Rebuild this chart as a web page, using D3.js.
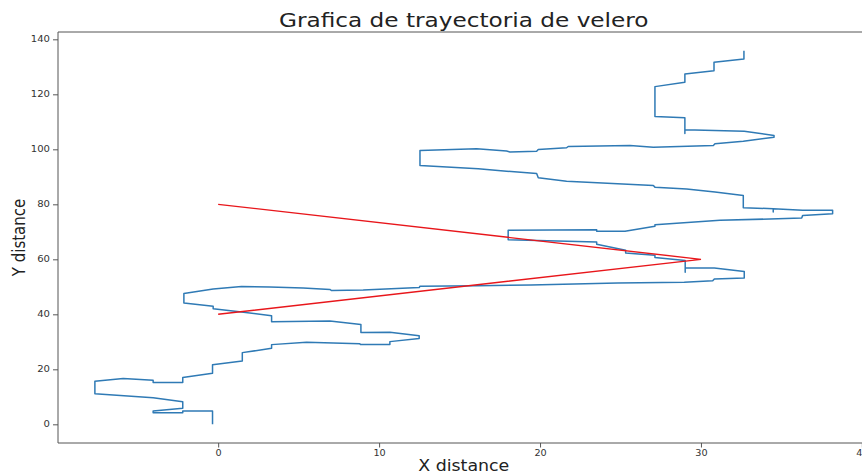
<!DOCTYPE html>
<html>
<head>
<meta charset="utf-8">
<script src="https://cdn.jsdelivr.net/npm/d3@7"></script>
<style>
  html, body { margin: 0; padding: 0; background: #fff; }
  svg { display: block; }
  text { font-family: "DejaVu Sans", sans-serif; }
</style>
</head>
<body>
<svg id="chart" width="862" height="474"></svg>
<script>
// ---- data ----
const pathX = [-0.35,-0.35,-2.2,-2.2,-4.04,-4.04,-2.2,-2.2,-4.04,-7.66,-7.66,-5.9,-4.04,-4.04,-2.2,-2.2,-0.35,-0.35,1.5,1.5,
  3.32,3.32,5.49,8.8,8.83,10.67,10.67,12.49,12.49,10.67,8.87,8.87,6.94,3.32,3.32,1.45,-0.31,-0.31,-2.13,-2.13,
  -0.31,1.45,3.21,5.28,6.94,7.05,9.01,12.49,12.54,16.14,19.43,24.82,28.96,30.73,30.83,32.69,32.69,30.83,29.02,29.02,
  29.02,27.14,27.14,25.32,25.32,23.52,23.52,18.02,18.02,23.52,23.52,25.28,27.14,27.14,31.18,36.26,36.32,38.18,38.18,36.32,
  34.49,34.49,34.49,32.63,32.63,30.87,29.11,27.14,27.04,21.65,19.89,19.79,17.92,16.16,12.54,12.54,16.06,17.92,18.13,19.79,
  19.89,21.65,21.75,25.59,27.04,30.77,30.87,32.63,34.54,34.54,32.69,29.0,29.0,29.0,27.14,27.14,29.0,29.0,30.81,30.81,
  32.67,32.67];
const pathY = [0,4.84,4.84,4.22,4.22,4.84,5.82,8.21,9.67,11.08,15.62,16.63,16.02,15.18,15.18,17.0,18.56,21.64,23.06,26.07,
  27.63,28.98,29.88,29.34,29.05,29.05,30.07,31.23,32.24,33.51,33.4,36.31,37.58,37.32,39.5,40.88,42.04,42.95,44.11,47.56,
  49.23,50.1,49.96,49.59,49.05,48.65,48.87,49.74,50.21,50.39,50.68,51.41,51.66,52.21,52.86,53.22,55.55,56.85,56.85,55.29,
  59.54,60.63,61.46,62.3,63.28,65.45,66.29,67.16,70.54,70.79,70.17,70.17,71.99,72.53,74.17,75.0,75.98,76.6,77.8,77.8,
  78.41,77.25,78.41,78.78,83.24,84.44,85.6,86.25,86.87,88.43,89.67,91.23,92.06,92.93,94.13,99.58,100.19,99.39,99.03,99.32,
  99.94,100.56,101.03,101.39,100.77,101.39,102.01,102.95,104.4,105.02,106.58,107.09,105.75,111.44,111.92,122.8,124.37,127.41,128.61,131.62,
  132.86,135.87];
const redX = [0, 30, 0];
const redY = [80, 60, 40];
const xTicks = [0, 10, 20, 30, 40];
const yTicks = [0, 20, 40, 60, 80, 100, 120, 140];
const titleText = "Grafica de trayectoria de velero";
const xLabel = "X distance";
const yLabel = "Y distance";

// ---- layout ----
const svg = d3.select("#chart");
const mLeft = 58, mTop = 32, mRight = 869.5, mBottom = 443;
const SX = 1.16; // horizontal stretch of the original picture

function pad(ext) { const r = ext[1] - ext[0]; return [ext[0] - 0.05 * r, ext[1] + 0.05 * r]; }
const x = d3.scaleLinear().domain(pad(d3.extent(pathX))).range([mLeft, mRight]);
const y = d3.scaleLinear().domain(pad(d3.extent(pathY))).range([mBottom, mTop]);

// axes
const gx = svg.append("g").attr("transform", `translate(0,${mBottom})`)
  .call(d3.axisBottom(x).tickValues(xTicks).tickSize(4.5).tickPadding(3).tickSizeOuter(0));
const gy = svg.append("g").attr("transform", `translate(${mLeft},0)`)
  .call(d3.axisLeft(y).tickValues(yTicks).tickSize(5).tickPadding(3).tickSizeOuter(0));
[gx, gy].forEach(g => {
  g.select(".domain").remove();
  g.selectAll(".tick line").attr("stroke", "#444").attr("stroke-width", 0.9);
  g.selectAll(".tick text").attr("fill", "#333").style("font-size", "8px");
});
gx.selectAll(".tick text").attr("transform", `scale(${SX + 0.05},1)`);
gy.selectAll(".tick text").each(function() {
  const x0 = +d3.select(this).attr("x");
  d3.select(this).attr("transform", `translate(${x0},0) scale(${SX + 0.1},1) translate(${-x0},0)`);
});

// spines
const spine = svg.append("g").attr("stroke", "#555").attr("stroke-width", 1).attr("fill", "none");
spine.append("line").attr("x1", mLeft).attr("x2", mLeft).attr("y1", mTop).attr("y2", mBottom);
spine.append("line").attr("x1", mLeft).attr("x2", mRight).attr("y1", mTop).attr("y2", mTop);
spine.append("line").attr("x1", mLeft).attr("x2", mRight).attr("y1", mBottom).attr("y2", mBottom);

// lines
const line = d3.line().x(d => x(d[0])).y(d => y(d[1]));
svg.append("path")
  .datum(pathX.map((v, i) => [v, pathY[i]]))
  .attr("fill", "none").attr("stroke", "#2f7ab5").attr("stroke-width", 1.5)
  .attr("stroke-linejoin", "round").attr("d", line);
svg.append("path")
  .datum(redX.map((v, i) => [v, redY[i]]))
  .attr("fill", "none").attr("stroke", "#e8161b").attr("stroke-width", 1.4)
  .attr("d", line);

// title and labels
const cx = (mLeft + mRight) / 2;
svg.append("text").attr("transform", `translate(${cx},27) scale(${SX},1)`)
  .attr("text-anchor", "middle").style("font-size", "20px").attr("fill", "#222").text(titleText);
svg.append("text").attr("transform", `translate(${cx},471) scale(${SX},1)`)
  .attr("text-anchor", "middle").style("font-size", "15px").attr("fill", "#222").text(xLabel);
svg.append("text").attr("transform", `translate(24.5,${(mTop + mBottom) / 2}) scale(${SX},1) rotate(-90)`)
  .attr("text-anchor", "middle").style("font-size", "15px").attr("fill", "#222").text(yLabel);
</script>
</body>
</html>
